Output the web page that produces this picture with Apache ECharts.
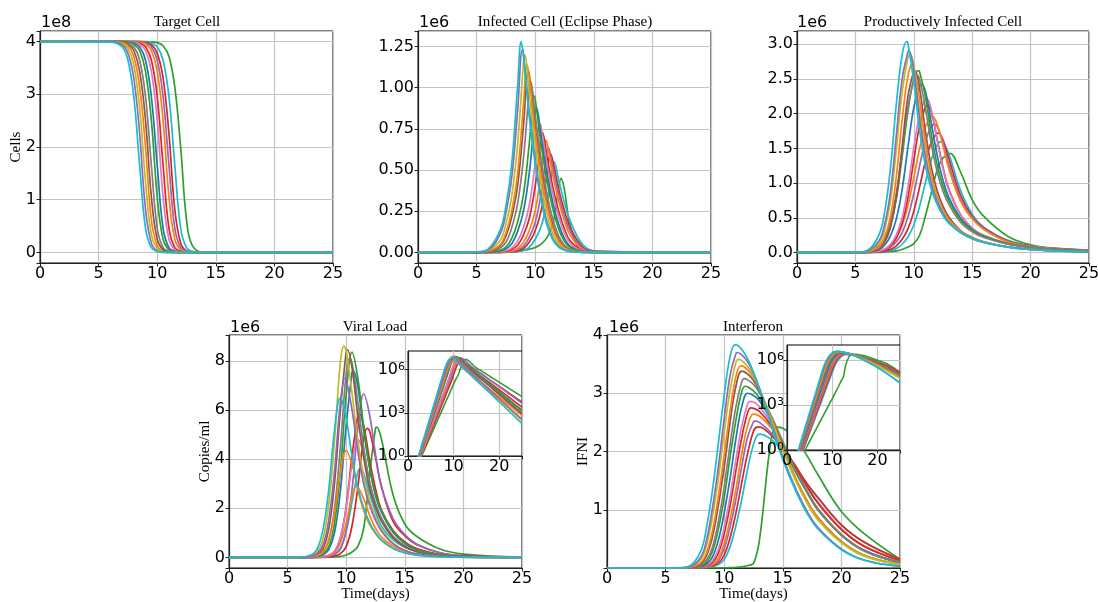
<!DOCTYPE html>
<html>
<head>
<meta charset="utf-8">
<title>Infection model simulations</title>
<script src="https://cdn.jsdelivr.net/npm/echarts@6.0.0/dist/echarts.min.js"></script>
<style>
  html, body { margin: 0; padding: 0; background: #fff; }
  #chart { width: 1098px; height: 602px; }
</style>
</head>
<body>
<div id="chart"></div>
<script>
// ---- data (one row per simulated curve) ----

// Target cells, in units of 1e8
const timeTarget = [0, 6, 7, 7.5, 8, 8.5, 9, 9.5, 10, 10.5, 11, 11.5, 12, 12.5, 13, 14, 25];
const targetCells = [
  [4, 3.99, 3.90, 3.65, 2.96, 1.66, 0.46, 0.09, 0.02, 0, 0, 0, 0, 0, 0, 0, 0],
  [4, 4, 3.94, 3.78, 3.31, 2.26, 0.82, 0.18, 0.03, 0.01, 0, 0, 0, 0, 0, 0, 0],
  [4, 4, 3.96, 3.87, 3.56, 2.74, 1.35, 0.34, 0.07, 0.01, 0, 0, 0, 0, 0, 0, 0],
  [4, 4, 3.98, 3.92, 3.72, 3.14, 2.00, 0.62, 0.13, 0.02, 0, 0, 0, 0, 0, 0, 0],
  [4, 4, 3.99, 3.95, 3.83, 3.44, 2.51, 1.06, 0.25, 0.05, 0.01, 0, 0, 0, 0, 0, 0],
  [4, 4, 3.99, 3.97, 3.90, 3.65, 2.96, 1.66, 0.46, 0.09, 0.02, 0, 0, 0, 0, 0, 0],
  [4, 4, 4, 3.99, 3.95, 3.83, 3.44, 2.51, 1.06, 0.25, 0.05, 0.01, 0, 0, 0, 0, 0],
  [4, 4, 4, 3.99, 3.97, 3.90, 3.65, 2.96, 1.66, 0.46, 0.09, 0.02, 0, 0, 0, 0, 0],
  [4, 4, 4, 4, 3.99, 3.95, 3.83, 3.44, 2.51, 1.06, 0.25, 0.05, 0.01, 0, 0, 0, 0],
  [4, 4, 4, 4, 3.99, 3.97, 3.90, 3.65, 2.96, 1.66, 0.46, 0.09, 0.02, 0, 0, 0, 0],
  [4, 4, 4, 4, 4, 3.99, 3.95, 3.83, 3.44, 2.51, 1.06, 0.25, 0.05, 0.01, 0, 0, 0],
  [4, 4, 4, 4, 4, 3.99, 3.97, 3.90, 3.65, 2.96, 1.66, 0.46, 0.09, 0.02, 0, 0, 0],
  [4, 4, 4, 4, 4, 4, 3.98, 3.94, 3.78, 3.31, 2.26, 0.82, 0.18, 0.03, 0.01, 0, 0],
  [4, 4, 4, 4, 4, 4, 3.99, 3.97, 3.90, 3.65, 2.96, 1.66, 0.46, 0.09, 0.02, 0, 0],
  [4, 4, 4, 4, 4, 4, 4, 3.99, 3.98, 3.92, 3.72, 3.14, 2.00, 0.62, 0.13, 0, 0]
];

// Eclipse-phase infected cells, in units of 1e6 (+ one peak point per curve)
const timeEclipse = [0, 5, 6, 7, 7.5, 8, 8.5, 9, 9.5, 10, 10.5, 11, 11.5, 12, 12.5, 13, 14, 15, 25];
const eclipseCells = [
  [0, 0.004, 0.022, 0.134, 0.282, 0.538, 1.011, 1.190, 0.819, 0.538, 0.320, 0.166, 0.077, 0.032, 0.014, 0.005, 0.001, 0, 0],
  [0, 0.004, 0.017, 0.111, 0.240, 0.455, 0.861, 1.205, 0.849, 0.566, 0.344, 0.185, 0.086, 0.037, 0.016, 0.006, 0.001, 0, 0],
  [0, 0.002, 0.013, 0.072, 0.174, 0.342, 0.660, 1.152, 0.960, 0.654, 0.414, 0.234, 0.114, 0.050, 0.022, 0.008, 0.001, 0, 0],
  [0, 0.002, 0.009, 0.046, 0.120, 0.251, 0.479, 0.901, 1.060, 0.730, 0.479, 0.285, 0.148, 0.068, 0.029, 0.013, 0.002, 0, 0],
  [0, 0.001, 0.007, 0.039, 0.099, 0.215, 0.407, 0.770, 1.078, 0.759, 0.506, 0.308, 0.165, 0.077, 0.033, 0.014, 0.002, 0, 0],
  [0, 0.001, 0.004, 0.026, 0.062, 0.151, 0.296, 0.572, 0.998, 0.832, 0.567, 0.359, 0.203, 0.099, 0.044, 0.019, 0.003, 0, 0],
  [0, 0, 0.003, 0.013, 0.033, 0.086, 0.185, 0.352, 0.665, 0.931, 0.656, 0.437, 0.266, 0.143, 0.067, 0.029, 0.005, 0.001, 0],
  [0, 0, 0.002, 0.010, 0.022, 0.053, 0.128, 0.251, 0.484, 0.845, 0.704, 0.480, 0.304, 0.172, 0.084, 0.037, 0.006, 0.001, 0],
  [0, 0, 0.001, 0.005, 0.011, 0.027, 0.070, 0.152, 0.289, 0.546, 0.764, 0.538, 0.359, 0.218, 0.117, 0.055, 0.010, 0.002, 0],
  [0, 0, 0.001, 0.003, 0.008, 0.018, 0.044, 0.106, 0.208, 0.402, 0.701, 0.584, 0.398, 0.252, 0.142, 0.069, 0.013, 0.002, 0],
  [0, 0, 0, 0.002, 0.004, 0.010, 0.024, 0.061, 0.133, 0.252, 0.476, 0.666, 0.469, 0.313, 0.190, 0.102, 0.020, 0.003, 0],
  [0, 0, 0, 0.001, 0.003, 0.007, 0.016, 0.038, 0.093, 0.182, 0.352, 0.614, 0.512, 0.349, 0.221, 0.125, 0.027, 0.004, 0],
  [0, 0, 0, 0.001, 0.002, 0.005, 0.010, 0.024, 0.063, 0.132, 0.252, 0.474, 0.558, 0.384, 0.252, 0.150, 0.036, 0.007, 0],
  [0, 0, 0, 0, 0.001, 0.002, 0.006, 0.014, 0.033, 0.080, 0.157, 0.303, 0.528, 0.440, 0.300, 0.190, 0.052, 0.010, 0],
  [0, 0, 0, 0.001, 0.002, 0.004, 0.007, 0.012, 0.020, 0.030, 0.050, 0.090, 0.170, 0.390, 0.380, 0.160, 0.010, 0, 0]
];
const eclipsePeakT = [8.8, 8.9, 9.1, 9.3, 9.4, 9.6, 9.9, 10.1, 10.4, 10.6, 10.9, 11.1, 11.3, 11.6, 12.2];
const eclipsePeakV = [1.28, 1.23, 1.20, 1.14, 1.10, 1.04, 0.95, 0.88, 0.78, 0.73, 0.68, 0.64, 0.60, 0.55, 0.45];

// Productively infected cells, in units of 1e6
const timeProductive = [0, 5, 6, 7, 7.5, 8, 8.5, 9, 9.5, 10, 10.5, 11, 11.5, 12, 12.5, 13, 14, 15, 16, 18, 20, 22, 25];
const productiveCells = [
  [0, 0.004, 0.030, 0.249, 0.578, 1.216, 2.128, 2.842, 3.010, 2.462, 1.763, 1.246, 0.912, 0.693, 0.535, 0.423, 0.286, 0.198, 0.146, 0.079, 0.044, 0.024, 0.010],
  [0, 0.003, 0.020, 0.162, 0.400, 0.870, 1.682, 2.494, 2.888, 2.610, 1.929, 1.363, 0.986, 0.740, 0.566, 0.438, 0.293, 0.200, 0.145, 0.081, 0.045, 0.025, 0.010],
  [0, 0.002, 0.017, 0.131, 0.333, 0.741, 1.482, 2.309, 2.807, 2.679, 2.024, 1.425, 1.026, 0.770, 0.584, 0.453, 0.299, 0.205, 0.148, 0.083, 0.046, 0.025, 0.010],
  [0, 0.002, 0.011, 0.082, 0.223, 0.517, 1.088, 1.904, 2.543, 2.693, 2.203, 1.578, 1.115, 0.816, 0.620, 0.479, 0.307, 0.209, 0.150, 0.082, 0.045, 0.025, 0.010],
  [0, 0.001, 0.007, 0.050, 0.147, 0.362, 0.786, 1.520, 2.253, 2.610, 2.358, 1.742, 1.231, 0.891, 0.668, 0.511, 0.317, 0.217, 0.155, 0.084, 0.046, 0.026, 0.010],
  [0, 0.003, 0.017, 0.094, 0.217, 0.441, 0.854, 1.471, 2.091, 2.486, 2.489, 2.073, 1.561, 1.163, 0.882, 0.694, 0.439, 0.301, 0.217, 0.122, 0.074, 0.044, 0.021],
  [0, 0.002, 0.014, 0.081, 0.191, 0.393, 0.770, 1.378, 2.038, 2.497, 2.599, 2.240, 1.703, 1.263, 0.954, 0.744, 0.472, 0.320, 0.231, 0.128, 0.079, 0.046, 0.022],
  [0, 0.001, 0.007, 0.041, 0.106, 0.240, 0.482, 0.908, 1.520, 2.086, 2.396, 2.316, 1.863, 1.399, 1.043, 0.796, 0.496, 0.329, 0.235, 0.131, 0.077, 0.046, 0.022],
  [0, 0.001, 0.004, 0.018, 0.047, 0.115, 0.255, 0.502, 0.941, 1.510, 1.989, 2.213, 2.054, 1.616, 1.208, 0.901, 0.544, 0.351, 0.246, 0.133, 0.078, 0.047, 0.023],
  [0, 0.001, 0.003, 0.015, 0.036, 0.093, 0.210, 0.422, 0.795, 1.331, 1.827, 2.099, 2.029, 1.632, 1.225, 0.914, 0.547, 0.350, 0.244, 0.131, 0.076, 0.047, 0.022],
  [0, 0.002, 0.006, 0.024, 0.053, 0.112, 0.218, 0.390, 0.676, 1.078, 1.499, 1.813, 1.956, 1.848, 1.539, 1.207, 0.741, 0.486, 0.333, 0.160, 0.090, 0.055, 0.028],
  [0, 0.001, 0.004, 0.017, 0.035, 0.078, 0.157, 0.287, 0.511, 0.851, 1.251, 1.606, 1.817, 1.817, 1.591, 1.264, 0.770, 0.500, 0.339, 0.160, 0.090, 0.056, 0.029],
  [0, 0.001, 0.003, 0.010, 0.021, 0.046, 0.098, 0.191, 0.342, 0.593, 0.946, 1.316, 1.591, 1.717, 1.622, 1.350, 0.826, 0.521, 0.351, 0.170, 0.095, 0.060, 0.031],
  [0, 0, 0.002, 0.007, 0.012, 0.026, 0.058, 0.120, 0.224, 0.397, 0.669, 1.014, 1.336, 1.549, 1.589, 1.421, 0.896, 0.554, 0.366, 0.180, 0.100, 0.063, 0.034],
  [0, 0, 0.001, 0.004, 0.008, 0.014, 0.025, 0.045, 0.080, 0.130, 0.250, 0.530, 0.860, 1.190, 1.360, 1.420, 1.160, 0.760, 0.520, 0.240, 0.110, 0.055, 0.022]
];
const productivePeakT = [9.4, 9.6, 9.7, 9.9, 10.1, 10.3, 10.4, 10.7, 11.1, 11.2, 11.6, 11.8, 12.1, 12.4, 13.1];
const productivePeakV = [3.04, 2.90, 2.85, 2.72, 2.62, 2.55, 2.62, 2.42, 2.22, 2.12, 1.96, 1.85, 1.72, 1.60, 1.43];

// Viral load, copies/ml (also used by the log inset)
const timeViral = [0, 2, 4, 6, 7, 7.5, 8, 8.5, 9, 9.5, 10, 10.5, 11, 11.5, 12, 12.5, 13, 14, 15, 16, 18, 20, 25];
const viralLoad = [
  [0.0036, 0.48, 63, 8.3e3, 9.6e4, 3.26e5, 1.08e6, 2.71e6, 5.16e6, 6.5e6, 5.66e6, 4.10e6, 2.84e6, 2.01e6, 1.42e6, 1.01e6, 7.1e5, 3.6e5, 1.8e5, 9.0e4, 2.3e4, 5.7e3, 180],
  [0.0037, 0.40, 42, 4.4e3, 4.5e4, 1.4e5, 4.7e5, 1.49e6, 3.50e6, 6.29e6, 7.25e6, 6.00e6, 4.30e6, 2.97e6, 2.11e6, 1.51e6, 1.08e6, 5.5e5, 2.8e5, 1.46e5, 3.8e4, 1.0e4, 360],
  [0.0044, 0.49, 55, 6.2e3, 6.5e4, 2.1e5, 7.1e5, 2.11e6, 4.73e6, 7.94e6, 8.40e6, 6.67e6, 4.73e6, 3.27e6, 2.31e6, 1.64e6, 1.16e6, 5.8e5, 2.9e5, 1.46e5, 3.7e4, 9.2e3, 290],
  [0.0037, 0.33, 29, 2.5e3, 2.3e4, 7.2e4, 2.2e5, 7.2e5, 1.81e6, 3.45e6, 4.35e6, 3.79e6, 2.74e6, 1.90e6, 1.34e6, 9.7e5, 7.0e5, 3.7e5, 1.9e5, 1.0e5, 2.8e4, 7.7e3, 310],
  [0.0043, 0.41, 38, 3.6e3, 3.5e4, 1.07e5, 3.4e5, 1.12e6, 3.00e6, 5.98e6, 8.37e6, 7.71e6, 5.71e6, 4.05e6, 2.80e6, 2.04e6, 1.49e6, 8.0e5, 4.3e5, 2.3e5, 6.7e4, 1.9e4, 850],
  [0.0038, 0.33, 28, 2.4e3, 2.2e4, 6.9e4, 2.1e5, 6.7e5, 1.98e6, 4.46e6, 7.48e6, 7.91e6, 6.29e6, 4.46e6, 3.08e6, 2.21e6, 1.62e6, 8.7e5, 4.7e5, 2.5e5, 7.2e4, 2.1e4, 930],
  [0.0046, 0.34, 26, 1.9e3, 1.66e4, 4.8e4, 1.41e5, 4.2e5, 1.39e6, 3.48e6, 6.63e6, 8.35e6, 7.27e6, 5.27e6, 3.65e6, 2.58e6, 1.91e6, 1.05e6, 5.8e5, 3.2e5, 9.6e4, 2.9e4, 1.45e3],
  [0.0038, 0.28, 20, 1.45e3, 1.23e4, 3.6e4, 1.05e5, 3.1e5, 1.00e6, 2.70e6, 5.38e6, 7.53e6, 6.93e6, 5.14e6, 3.64e6, 2.52e6, 1.85e6, 1.02e6, 5.6e5, 3.1e5, 9.3e4, 2.8e4, 1.4e3],
  [0.0049, 0.25, 13, 660, 4.7e3, 1.26e4, 3.4e4, 9.0e4, 2.4e5, 8.0e5, 2.00e6, 3.81e6, 4.8e6, 4.18e6, 3.03e6, 2.10e6, 1.48e6, 8.3e5, 4.7e5, 2.6e5, 8.3e4, 2.6e4, 1.5e3],
  [0.0049, 0.25, 13, 660, 4.7e3, 1.26e4, 3.4e4, 9.0e4, 2.4e5, 7.7e5, 2.08e6, 4.14e6, 5.80e6, 5.34e6, 3.95e6, 2.80e6, 1.94e6, 1.10e6, 6.3e5, 3.6e5, 1.2e5, 4.0e4, 2.5e3],
  [0.0043, 0.21, 10, 510, 3.6e3, 9.5e3, 2.5e4, 6.6e4, 1.9e5, 5.9e5, 1.39e6, 2.50e6, 2.88e6, 2.38e6, 1.71e6, 1.18e6, 8.4e5, 4.6e5, 2.5e5, 1.4e5, 4.2e4, 1.28e4, 650],
  [0.0049, 0.22, 9.8, 440, 2.9e3, 7.4e3, 1.9e4, 5.0e4, 1.29e5, 3.3e5, 1.10e6, 2.77e6, 5.28e6, 6.65e6, 5.79e6, 4.20e6, 2.91e6, 1.58e6, 9.3e5, 5.5e5, 1.9e5, 6.6e4, 4.7e3],
  [0.0052, 0.19, 7.3, 270, 1.67e3, 4.1e3, 1.02e4, 2.5e4, 6.2e4, 1.55e5, 4.4e5, 1.29e6, 2.89e6, 4.85e6, 5.13e6, 4.07e6, 2.89e6, 1.47e6, 8.8e5, 5.3e5, 1.9e5, 7.0e4, 5.6e3],
  [0.005, 0.22, 9.7, 430, 2.8e3, 7.2e3, 1.86e4, 4.8e4, 1.24e5, 3.8e5, 1.06e6, 2.27e6, 3.48e6, 3.40e6, 2.61e6, 1.85e6, 1.28e6, 7.1e5, 4.1e5, 2.4e5, 7.8e4, 2.6e4, 1.6e3],
  [0.0072, 0.19, 5.2, 140, 720, 1.6e3, 3.7e3, 8.5e3, 1.9e4, 4.4e4, 1.0e5, 2.2e5, 4.5e5, 1.2e6, 3.4e6, 5.25e6, 4.83e6, 2.54e6, 1.36e6, 8.6e5, 3.4e5, 1.36e5, 1.36e4]
];
const viralPeakT = [9.5, 9.9, 9.8, 10.0, 10.1, 10.3, 10.5, 10.6, 11.0, 11.1, 10.9, 11.5, 11.8, 11.2, 12.6];
const viralPeakV = [6.5e6, 7.3e6, 8.6e6, 4.35e6, 8.45e6, 8.1e6, 8.35e6, 7.6e6, 4.8e6, 5.85e6, 2.9e6, 6.65e6, 5.25e6, 3.6e6, 5.3e6];

// Interferon (IFNI), absolute units (also used by the log inset)
const timeIfn = [0, 2, 4, 6, 7, 8, 8.5, 9, 9.5, 10, 10.5, 11, 11.5, 12, 12.5, 13, 14, 15, 16, 17, 18, 20, 22, 25];
const interferon = [
  [0.0032, 0.32, 32, 3.1e3, 3.1e4, 2.91e5, 7.05e5, 1.34e6, 2.14e6, 2.97e6, 3.63e6, 3.83e6, 3.75e6, 3.59e6, 3.36e6, 3.08e6, 2.47e6, 1.86e6, 1.37e6, 9.65e5, 6.70e5, 3.14e5, 1.30e5, 2.9e4],
  [0.0029, 0.26, 23, 2.1e3, 1.95e4, 1.86e5, 4.88e5, 1.03e6, 1.73e6, 2.57e6, 3.30e6, 3.68e6, 3.66e6, 3.54e6, 3.34e6, 3.09e6, 2.50e6, 1.91e6, 1.41e6, 1.00e6, 6.96e5, 3.29e5, 1.33e5, 3.1e4],
  [0.0032, 0.27, 22, 1.8e3, 1.6e4, 1.45e5, 3.94e5, 8.77e5, 1.53e6, 2.33e6, 3.05e6, 3.53e6, 3.56e6, 3.46e6, 3.29e6, 3.08e6, 2.56e6, 2.02e6, 1.54e6, 1.14e6, 8.27e5, 4.33e5, 2.00e5, 6.1e4],
  [0.003, 0.22, 17, 1.2e3, 1.07e4, 9.3e4, 2.64e5, 6.38e5, 1.22e6, 1.94e6, 2.69e6, 3.29e6, 3.47e6, 3.40e6, 3.27e6, 3.07e6, 2.58e6, 2.06e6, 1.58e6, 1.18e6, 8.61e5, 4.51e5, 2.12e5, 6.2e4],
  [0.0024, 0.18, 13, 980, 8.5e3, 7.2e4, 2.13e5, 5.34e5, 1.07e6, 1.73e6, 2.50e6, 3.12e6, 3.38e6, 3.33e6, 3.22e6, 3.04e6, 2.57e6, 2.06e6, 1.58e6, 1.18e6, 8.65e5, 4.56e5, 2.16e5, 6.4e4],
  [0.0022, 0.15, 10, 690, 5.7e3, 4.7e4, 1.35e5, 3.58e5, 7.96e5, 1.39e6, 2.12e6, 2.77e6, 3.20e6, 3.23e6, 3.15e6, 3.01e6, 2.62e6, 2.17e6, 1.72e6, 1.34e6, 1.01e6, 5.66e5, 2.89e5, 9.1e4],
  [0.0025, 0.16, 9.7, 600, 4.8e3, 3.7e4, 1.05e5, 2.84e5, 6.68e5, 1.21e6, 1.90e6, 2.54e6, 3.03e6, 3.11e6, 3.04e6, 2.92e6, 2.55e6, 2.12e6, 1.68e6, 1.32e6, 9.92e5, 5.62e5, 2.87e5, 9.0e4],
  [0.0023, 0.13, 7.6, 440, 3.3e3, 2.5e4, 6.9e4, 1.89e5, 4.74e5, 9.48e5, 1.54e6, 2.22e6, 2.77e6, 3.00e6, 2.96e6, 2.87e6, 2.54e6, 2.13e6, 1.70e6, 1.34e6, 1.01e6, 5.70e5, 2.94e5, 9.6e4],
  [0.0021, 0.11, 6.0, 320, 2.3e3, 1.66e4, 4.5e4, 1.23e5, 3.15e5, 7.01e5, 1.22e6, 1.86e6, 2.44e6, 2.82e6, 2.85e6, 2.77e6, 2.49e6, 2.11e6, 1.70e6, 1.34e6, 1.02e6, 5.78e5, 3.03e5, 1.0e5],
  [0.0018, 0.093, 4.9, 260, 1.8e3, 1.32e4, 3.5e4, 9.6e4, 2.50e5, 5.89e5, 1.07e6, 1.67e6, 2.24e6, 2.67e6, 2.74e6, 2.69e6, 2.45e6, 2.12e6, 1.76e6, 1.42e6, 1.11e6, 6.60e5, 3.63e5, 1.27e5],
  [0.0017, 0.081, 3.9, 190, 1.3e3, 9.1e3, 2.4e4, 6.3e4, 1.67e5, 4.17e5, 8.34e5, 1.35e6, 1.96e6, 2.44e6, 2.64e6, 2.61e6, 2.41e6, 2.10e6, 1.76e6, 1.42e6, 1.12e6, 6.68e5, 3.72e5, 1.29e5],
  [0.0014, 0.067, 3.2, 150, 1.05e3, 7.2e3, 1.9e4, 5.0e4, 1.32e5, 3.33e5, 7.03e5, 1.18e6, 1.75e6, 2.25e6, 2.51e6, 2.50e6, 2.32e6, 2.04e6, 1.74e6, 1.42e6, 1.13e6, 6.70e5, 3.68e5, 1.29e5],
  [0.0013, 0.059, 2.6, 115, 760, 5.0e3, 1.32e4, 3.4e4, 8.7e4, 2.20e5, 5.18e5, 9.41e5, 1.47e6, 1.97e6, 2.35e6, 2.42e6, 2.28e6, 2.05e6, 1.78e6, 1.47e6, 1.21e6, 7.41e5, 4.36e5, 1.5e5],
  [0.0012, 0.051, 2.1, 87, 550, 3.5e3, 8.9e3, 2.3e4, 5.8e4, 1.45e5, 3.63e5, 7.27e5, 1.18e6, 1.70e6, 2.12e6, 2.30e6, 2.21e6, 2.00e6, 1.75e6, 1.45e6, 1.20e6, 7.36e5, 4.37e5, 1.5e5],
  [0.0052, 0.072, 1.0, 14, 51, 190, 370, 710, 1.4e3, 2.6e3, 5.1e3, 1.0e4, 2.0e4, 4.2e4, 8.0e4, 4.7e5, 2.2e6, 2.40e6, 2.25e6, 1.95e6, 1.6e6, 9.7e5, 5.8e5, 1.5e5]
];
const ifnPeakT = [10.9, 11.1, 11.2, 11.4, 11.5, 11.7, 11.8, 12.0, 12.2, 12.3, 12.5, 12.6, 12.8, 13.0, 14.5];
const ifnPeakV = [3.83e6, 3.70e6, 3.58e6, 3.47e6, 3.38e6, 3.25e6, 3.12e6, 3.00e6, 2.86e6, 2.75e6, 2.64e6, 2.52e6, 2.42e6, 2.30e6, 2.42e6];

// texts
const panelTitles = ['Target Cell', 'Infected Cell (Eclipse Phase)', 'Productively Infected Cell', 'Viral Load', 'Interferon'];
const offsetTexts = ['1e8', '1e6', '1e6', '1e6', '1e6'];

// ---- layout / style ----
const curveColors = ['#17becf', '#9467bd', '#bcbd22', '#ff7f0e', '#8c564b', '#7f7f7f', '#2ca02c',
  '#1f77b4', '#e377c2', '#d62728', '#ff7f0e', '#9467bd', '#d62728', '#17becf', '#2ca02c'];

// [left, top, width, height]; 5 and 6 are the log insets
const gridRects = [
  [40, 31, 293, 232], [418, 31, 293, 232], [797, 31, 292, 232],
  [229, 335, 293, 233], [607, 335, 293, 233],
  [408, 351, 114, 105], [787, 345, 113, 105]
];
const titlePos = [[187, 22], [565, 22], [943, 22], [375, 327], [753, 327]];
const offsetPos = [[41, 23], [419, 23], [797, 23], [230, 328], [609, 328]];

const labelFont = { fontFamily: 'DejaVu Sans', fontSize: 16, color: '#000' };
const serifFont = { fontFamily: 'Liberation Serif', fontSize: 15, color: '#000' };

function onStep(v, step) {
  return Math.abs(v / step - Math.round(v / step)) < 1e-6;
}

function powerLabel(v) {
  const e = Math.log10(v);
  const r = Math.round(e);
  if (Math.abs(e - r) > 1e-6 || r % 3 !== 0) return '';
  return '{b|10}{e|' + r + '}';
}

function baseAxis(gridIndex, z) {
  return {
    gridIndex: gridIndex,
    z: z,
    axisLine: { show: true, onZero: false, lineStyle: { color: '#222', width: 1.2 } },
    axisTick: { show: true, inside: false, length: 3.5, lineStyle: { color: '#222', width: 1 } },
    splitLine: { show: true, lineStyle: { color: '#c4c4c4', width: 1.2 } },
    nameMoveOverlap: false
  };
}

// insert the curve's peak point into its sampled time grid
function withPeak(times, values, peakT, peakV) {
  const pts = times.map((t, i) => [t, values[i]]);
  if (peakT != null && times.indexOf(peakT) < 0) {
    const at = pts.findIndex(p => p[0] > peakT);
    pts.splice(at, 0, [peakT, peakV]);
  }
  return pts;
}

const grids = gridRects.map((r, i) => ({
  left: r[0], top: r[1], width: r[2], height: r[3],
  show: true,
  borderColor: '#000',
  borderWidth: 1,
  backgroundColor: i >= 5 ? '#fff' : 'transparent',
  z: i >= 5 ? 5 : 0,
  containLabel: false,
  outerBoundsMode: 'none'
}));

const xAxes = [];
for (let i = 0; i < 7; i++) {
  const inset = i >= 5;
  const step = inset ? 10 : 5;
  xAxes.push(Object.assign(baseAxis(i, inset ? 6 : 1), {
    type: 'value', min: 0, max: 25, interval: step,
    axisLabel: Object.assign({}, labelFont, { margin: 3, formatter: v => onStep(v, step) ? String(v) : '' }),
    name: (i === 3 || i === 4) ? 'Time(days)' : '',
    nameLocation: 'middle', nameGap: 19, nameTextStyle: serifFont
  }));
}

const yMain = [
  { min: -0.2, max: 4.2, step: 1, digits: 0, scale: 1, name: 'Cells' },
  { min: -0.064, max: 1.344, step: 0.25, digits: 2, scale: 1, name: '' },
  { min: -0.15, max: 3.19, step: 0.5, digits: 1, scale: 1, name: '' },
  { min: -0.43e6, max: 9.05e6, step: 2e6, digits: 0, scale: 1e6, name: 'Copies/ml' },
  { min: 0, max: 4e6, step: 1e6, digits: 0, scale: 1e6, name: 'IFNI', hideZero: true }
];

const yAxes = yMain.map((c, i) => Object.assign(baseAxis(i, 1), {
  type: 'value', min: c.min, max: c.max, minInterval: c.step, maxInterval: c.step,
  axisLabel: Object.assign({}, labelFont, {
    margin: 4,
    formatter: v => (onStep(v, c.step) && !(c.hideZero && Math.abs(v) < 1e-9)) ? (v / c.scale).toFixed(c.digits) : ''
  }),
  name: c.name, nameLocation: 'middle', nameRotate: 90, nameGap: 16, nameTextStyle: serifFont
}));

[[5, 2e7], [6, 1e7]].forEach(([gi, top]) => {
  const ax = baseAxis(gi, 6);
  ax.axisTick.customValues = [1, 1e3, 1e6];
  yAxes.push(Object.assign(ax, {
    type: 'log', logBase: 10, min: 1, max: top,
    axisLabel: {
      margin: 3,
      customValues: [1, 1e3, 1e6],
      formatter: powerLabel,
      rich: {
        b: { fontFamily: 'DejaVu Sans', fontSize: 16, color: '#000' },
        e: { fontFamily: 'DejaVu Sans', fontSize: 11, color: '#000', verticalAlign: 'top' }
      }
    }
  }));
});

const panels = [
  { grid: 0, times: timeTarget, curves: targetCells },
  { grid: 1, times: timeEclipse, curves: eclipseCells, peakT: eclipsePeakT, peakV: eclipsePeakV },
  { grid: 2, times: timeProductive, curves: productiveCells, peakT: productivePeakT, peakV: productivePeakV },
  { grid: 3, times: timeViral, curves: viralLoad, peakT: viralPeakT, peakV: viralPeakV },
  { grid: 4, times: timeIfn, curves: interferon, peakT: ifnPeakT, peakV: ifnPeakV },
  { grid: 5, times: timeViral, curves: viralLoad, peakT: viralPeakT, peakV: viralPeakV, inset: true },
  { grid: 6, times: timeIfn, curves: interferon, peakT: ifnPeakT, peakV: ifnPeakV, inset: true }
];

const series = [];
panels.forEach(p => {
  // earliest curve drawn last so it sits on top, as in the figure
  for (let k = p.curves.length - 1; k >= 0; k--) {
    series.push({
      type: 'line',
      xAxisIndex: p.grid,
      yAxisIndex: p.grid,
      data: withPeak(p.times, p.curves[k], p.peakT ? p.peakT[k] : null, p.peakV ? p.peakV[k] : null),
      smooth: 0.4,
      symbol: 'none',
      showSymbol: false,
      clip: true,
      silent: true,
      z: p.inset ? 7 : 2,
      lineStyle: { width: p.inset ? 1.6 : 1.7, color: curveColors[k] },
      itemStyle: { color: curveColors[k] },
      emphasis: { disabled: true }
    });
  }
});

const graphic = [];
panelTitles.forEach((t, i) => {
  graphic.push({
    type: 'text', x: titlePos[i][0], y: titlePos[i][1], z: 20, silent: true,
    style: { text: t, font: '15px "Liberation Serif"', fill: '#000',
      textAlign: 'center', textVerticalAlign: 'middle', align: 'center', verticalAlign: 'middle' }
  });
});
offsetTexts.forEach((t, i) => {
  graphic.push({
    type: 'text', x: offsetPos[i][0], y: offsetPos[i][1], z: 20, silent: true,
    style: { text: t, font: '16px "DejaVu Sans"', fill: '#000',
      textAlign: 'left', textVerticalAlign: 'middle', align: 'left', verticalAlign: 'middle' }
  });
});

const chart = echarts.init(document.getElementById('chart'));
chart.setOption({
  backgroundColor: '#fff',
  animation: false,
  grid: grids,
  xAxis: xAxes,
  yAxis: yAxes,
  series: series,
  graphic: graphic
});
</script>
</body>
</html>
